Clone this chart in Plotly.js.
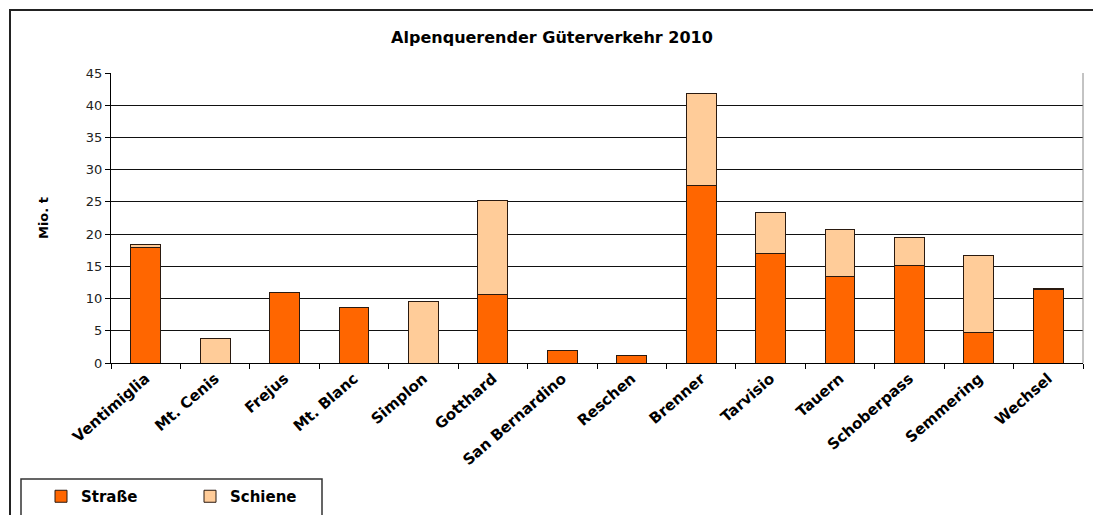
<!DOCTYPE html>
<html>
<head>
<meta charset="utf-8">
<script src="https://cdn.plot.ly/plotly-3.0.1.min.js"></script>
<style>html,body{margin:0;padding:0;background:#fff;}#chart{width:1093px;height:515px;}</style>
</head>
<body>
<div id="chart"></div>
<script>
const categories = ["Ventimiglia","Mt. Cenis","Frejus","Mt. Blanc","Simplon","Gotthard","San Bernardino","Reschen","Brenner","Tarvisio","Tauern","Schoberpass","Semmering","Wechsel"];
const strasse = [17.9, 0, 11.0, 8.6, 0, 10.7, 2.0, 1.1, 27.5, 17.0, 13.5, 15.1, 4.7, 11.4];
const schiene = [0.5, 3.8, 0, 0, 9.6, 14.5, 0, 0, 14.3, 6.3, 7.2, 4.3, 12.0, 0.2];
const seriesNames = ["Straße", "Schiene"];
const yTicks = [0,5,10,15,20,25,30,35,40,45];

const FONT = "DejaVu Sans, Verdana, sans-serif";
const PL = 111, PW = 972, PT = 73, PH = 290;
const px2x = function(p){ return (p-PL)/PW; };
const px2y = function(p){ return (PT+PH-p)/PH; };

const traces = [
  {type:"bar", name:seriesNames[0], x:categories, y:strasse,
   marker:{color:"#FF6600", line:{color:"#2a1a10", width:1}}},
  {type:"bar", name:seriesNames[1], x:categories, y:schiene,
   marker:{color:"#FFCC99", line:{color:"#2a1a10", width:1}}}
];

const layout = {
  width:1093, height:515,
  margin:{l:PL, r:10, t:PT, b:515-PT-PH, autoexpand:false},
  paper_bgcolor:"#fff", plot_bgcolor:"#fff",
  barmode:"stack",
  bargap:0.57,
  font:{family:FONT, color:"#000"},
  title:{text:"<b>Alpenquerender Güterverkehr 2010</b>", font:{family:FONT, size:16, color:"#000"},
         xref:"container", x:0.505, xanchor:"center", yref:"container", y:1-37/515, yanchor:"middle"},
  xaxis:{
    type:"category", showgrid:false, showline:true, linecolor:"#000", linewidth:1,
    ticks:"outside", tickson:"boundaries", ticklen:5, tickcolor:"#000",
    tickangle:-41, tickfont:{family:FONT, size:15, color:"#000", weight:"bold"},
    automargin:false, fixedrange:true
  },
  yaxis:{
    range:[0,45], tickvals:yTicks, showline:true, linecolor:"#000", linewidth:1,
    ticks:"outside", ticklen:5, tickcolor:"#000",
    showgrid:true, gridcolor:"#111", gridwidth:1, zeroline:false,
    tickfont:{family:FONT, size:13, color:"#222"},
    title:{text:"<b>Mio. t</b>", font:{family:FONT, size:13, color:"#000"}, standoff:34},
    automargin:false
  },
  showlegend:true,
  legend:{orientation:"h", x:px2x(41), xanchor:"left", y:px2y(480), yanchor:"top",
          borderwidth:0, bgcolor:"rgba(0,0,0,0)",
          font:{family:FONT, size:15, color:"#000", weight:"bold"},
          entrywidth:104, traceorder:"normal"},
  shapes:[
    {type:"line", xref:"paper", yref:"paper", x0:1, x1:1, y0:0, y1:1, line:{color:"#888", width:1}},
    {type:"rect", xref:"paper", yref:"paper", x0:px2x(10), x1:px2x(1130), y0:px2y(540), y1:px2y(10),
     line:{color:"#222", width:2}, fillcolor:"rgba(0,0,0,0)"},
    {type:"rect", xref:"paper", yref:"paper", x0:px2x(21), x1:px2x(322), y0:px2y(540), y1:px2y(479),
     line:{color:"#333", width:1.5}, fillcolor:"rgba(0,0,0,0)"}
  ]
};

Plotly.newPlot("chart", traces, layout, {displayModeBar:false, staticPlot:true});
</script>
</body>
</html>
